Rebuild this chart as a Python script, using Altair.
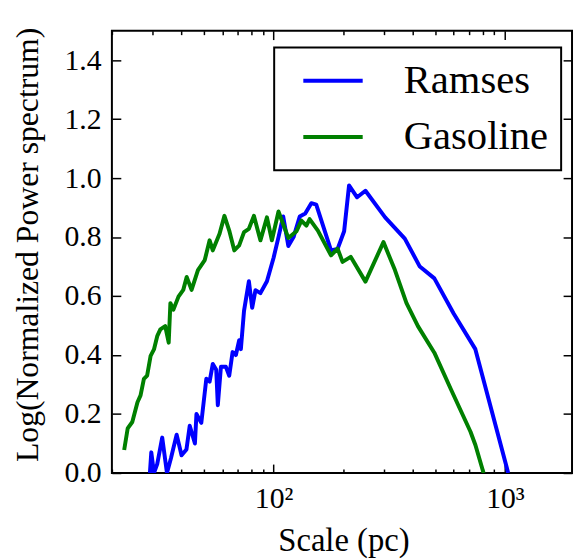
import altair as alt
import pandas as pd

series_names = ["Ramses", "Gasoline"]
series_colors = ["#0000ff", "#008000"]

ramses_x = [29.2, 29.6, 30.4, 31.4, 33.0, 34.6, 36.0, 38.1, 40.0, 42.0, 43.4, 45.7, 46.4,
            48.7, 51.2, 52.9, 54.6, 56.5, 57.4, 59.2, 62.2, 64.3, 66.5, 68.7, 71.0, 72.2,
            74.5, 78.2, 80.8, 83.5, 87.7, 93.6, 100, 105, 110, 115.8, 122, 129.7, 137,
            145.6, 152.9, 177.1, 189.1, 201.8, 211.9, 229.6, 249.5, 303.5, 369.1, 428.6,
            495.3, 601, 745, 1033]
ramses_y = [0.0, 0.07, 0.0, 0.03, 0.12, 0.0, 0.05, 0.13, 0.06, 0.08, 0.16, 0.10, 0.20,
            0.17, 0.32, 0.31, 0.37, 0.35, 0.23, 0.36, 0.36, 0.33, 0.41, 0.40, 0.45, 0.42,
            0.55, 0.65, 0.56, 0.62, 0.61, 0.65, 0.73, 0.80, 0.87, 0.77, 0.80, 0.87, 0.88,
            0.915, 0.91, 0.755, 0.76, 0.82, 0.975, 0.935, 0.957, 0.867, 0.795, 0.70,
            0.66, 0.54, 0.42, 0.0]

gasoline_x = [22.6, 23.4, 24.5, 25.8, 26.6, 27.5, 28.4, 29.4, 30.4, 31.4, 32.4, 34.0, 35.2,
              35.8, 36.9, 38.8, 40.7, 42.1, 44.2, 47.1, 50.4, 52.9, 54.6, 58.4, 61.3, 64.3,
              67.6, 71.0, 74.5, 78.2, 82.2, 87.7, 93.6, 98.3, 105, 115.8, 125.6, 131.9,
              138.6, 143.1, 155.4, 177.1, 189.1, 198.6, 215.4, 249.5, 298.5, 334.6, 375.4,
              420.6, 495.3, 583.4, 709.9, 745.4, 808.5]
gasoline_y = [0.078, 0.151, 0.173, 0.24, 0.263, 0.319, 0.33, 0.397, 0.419, 0.464, 0.487,
              0.498, 0.442, 0.576, 0.554, 0.598, 0.621, 0.665, 0.621, 0.688, 0.722, 0.789,
              0.755, 0.811, 0.872, 0.822, 0.755, 0.772, 0.817, 0.828, 0.872, 0.789, 0.867,
              0.789, 0.887, 0.797, 0.82, 0.856, 0.839, 0.861, 0.822, 0.738, 0.761, 0.716,
              0.733, 0.649, 0.783, 0.688, 0.576, 0.498, 0.408, 0.285, 0.140, 0.095, 0.0]

x_major_ticks = [100, 1000]
x_minor_ticks = [20, 30, 40, 50, 60, 70, 80, 90, 200, 300, 400, 500, 600, 700, 800, 900]
y_ticks = [0.0, 0.2, 0.4, 0.6, 0.8, 1.0, 1.2, 1.4]
x_domain = [20, 1950]
y_domain = [0, 1.5]

df = pd.concat([
    pd.DataFrame({"x": ramses_x, "y": ramses_y, "series": series_names[0]}),
    pd.DataFrame({"x": gasoline_x, "y": gasoline_y, "series": series_names[1]}),
], ignore_index=True)

W, H = 465, 447
AX_FONT = "Liberation Serif"
xscale = alt.Scale(type="log", domain=x_domain)
yscale = alt.Scale(domain=y_domain)
x_all_ticks = sorted(x_minor_ticks + x_major_ticks)
x_tick_len = {"condition": {"test": "datum.value == 100 || datum.value == 1000", "value": 9}, "value": 4}

lines = alt.Chart(df).mark_line(strokeWidth=4, clip=True, strokeJoin="round").encode(
    x=alt.X("x:Q", scale=xscale, axis=alt.Axis(
        orient="bottom", values=x_major_ticks,
        labelExpr="datum.value == 100 ? '10²' : '10³'",
        ticks=False, tickSize=0, domain=False, grid=False,
        labelFont=AX_FONT, labelFontSize=30, labelColor="black",
        labelPadding=35, labelBaseline="alphabetic",
        title="Scale (pc)", titleFont=AX_FONT, titleFontSize=33, titleFontWeight="normal",
        titleColor="black", titleX=234, titleY=78, titleBaseline="alphabetic")),
    y=alt.Y("y:Q", scale=yscale, axis=alt.Axis(
        orient="left", values=y_ticks, format=".1f",
        ticks=False, tickSize=0, domain=False, grid=False,
        labelFont=AX_FONT, labelFontSize=30, labelColor="black", labelPadding=11,
        title="Log(Normalized Power spectrum)", titleFont=AX_FONT, titleFontSize=32,
        titleFontWeight="normal", titleColor="black", titleX=-75, titleY=216,
        titleBaseline="alphabetic", titleAlign="center")),
    color=alt.Color("series:N", scale=alt.Scale(domain=series_names, range=series_colors),
                    legend=alt.Legend(
                        title=None, orient="none", legendX=164, legendY=17,
                        symbolType="M-0.27,0H3.73", symbolSize=900, symbolStrokeWidth=4,
                        labelFont="Liberation Serif", labelFontSize=41, labelColor="black",
                        labelOffset=77, padding=13, rowPadding=15,
                        strokeColor="black", fillColor="white", cornerRadius=0)),
)


def tick_layer(x_orient, y_orient):
    return alt.Chart(df).mark_line(opacity=0).encode(
        x=alt.X("x:Q", scale=xscale, axis=alt.Axis(
            orient=x_orient, offset=-H, values=x_all_ticks, tickSize=x_tick_len,
            tickWidth=1.5, tickColor="black", labels=False, domain=False, grid=False,
            title=None)),
        y=alt.Y("y:Q", scale=yscale, axis=alt.Axis(
            orient=y_orient, offset=-W, values=y_ticks, tickSize=9,
            tickWidth=1.5, tickColor="black", labels=False, domain=False, grid=False,
            title=None)),
        detail="series:N",
    )


chart = alt.layer(
    lines,
    tick_layer("top", "right"),
    tick_layer("bottom", "left"),
).resolve_axis(x="independent", y="independent").properties(
    width=W, height=H,
    autosize=alt.AutoSizeParams(type="none"),
    padding={"left": 105, "top": 20, "right": 2, "bottom": 84},
).configure_view(stroke="black", strokeWidth=2).configure_legend(strokeWidth=2)

chart.save("out.html", embed_options={"renderer": "svg", "actions": False})
